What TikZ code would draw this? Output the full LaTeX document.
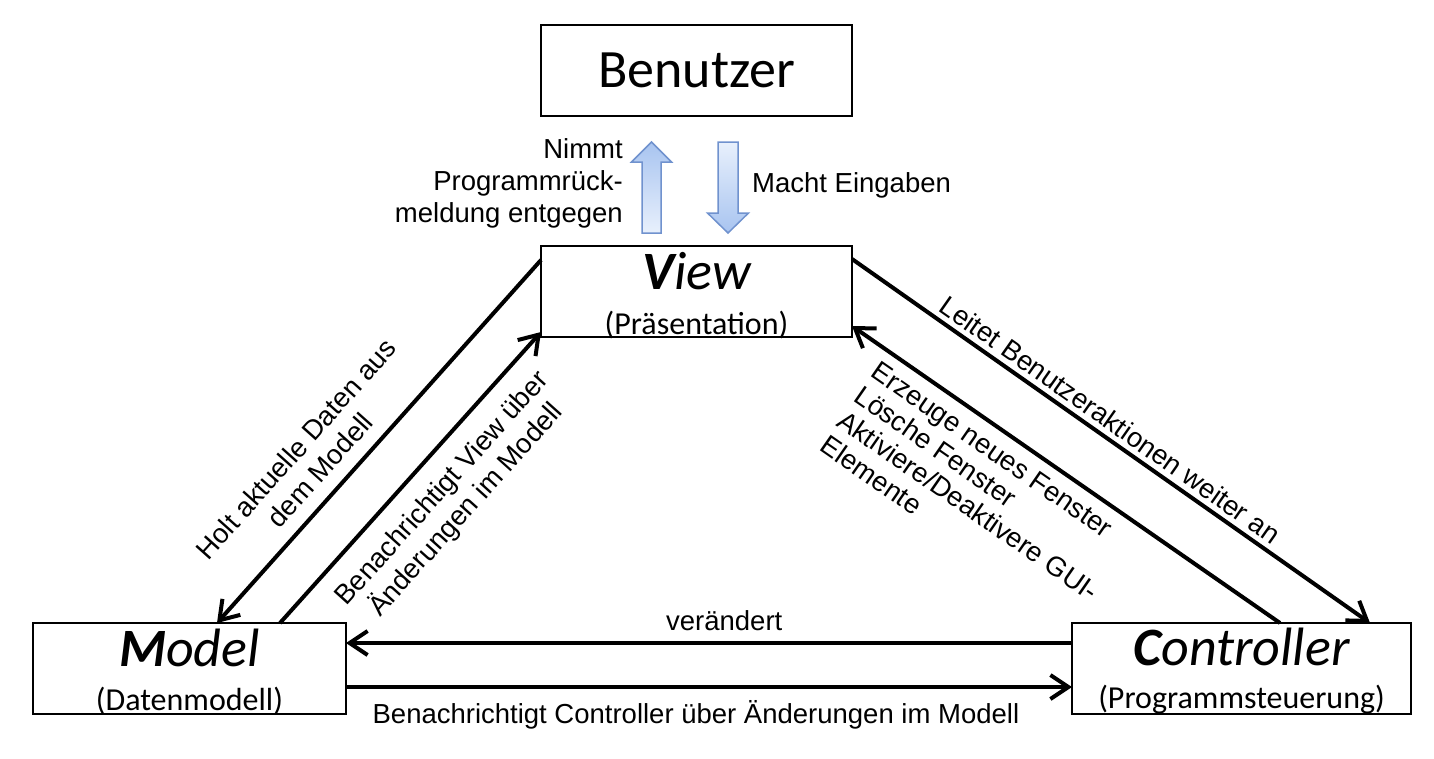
\documentclass[tikz,border=0pt]{standalone}
\usepackage{fontspec}
\setmainfont{Liberation Sans}
\newfontfamily\calibri{Carlito}
\usetikzlibrary{arrows.meta,calc,positioning}

\definecolor{fatEdge}{RGB}{112,146,206}
\definecolor{fatDark}{RGB}{168,196,240}
\definecolor{fatLight}{RGB}{232,240,252}

\tikzset{
  box/.style={draw, line width=2.5pt, minimum height=91pt, inner sep=0pt, outer sep=0pt},
  conn/.style={line width=4pt, -{Straight Barb[length=18pt,width=24pt]}},
  lbl/.style={font=\fontsize{27.5}{32}\selectfont, inner sep=0pt},
  usertext/.style={font=\calibri\fontsize{54}{60}\selectfont, anchor=base, inner sep=0pt},
  title/.style={font=\calibri\fontsize{54}{60}\selectfont\itshape, anchor=base, inner sep=0pt},
  subtitle/.style={font=\calibri\fontsize{32}{38}\selectfont, anchor=base, inner sep=0pt},
  fatarrow/.style={draw=fatEdge, line width=1.5pt, line join=miter},
}

\begin{document}
\begin{tikzpicture}[x=1pt,y=-1pt]
    \useasboundingbox (0,0) rectangle (1434,758);

    % boxes
    \node[box, minimum width=311pt] (benutzer) at (696.5,70.5) {};
    \node[box, minimum width=311pt] (view) at (696.5,291.5) {};
    \node[box, minimum width=313pt] (model) at (189.5,668.5) {};
    \node[box, minimum width=339pt] (controller) at (1241.5,668.5) {};

    \node[usertext] (benutzerT) at ([yshift=-16.5pt]benutzer.center) {Benutzer};
    \node[title] (viewT) at ([yshift=48pt]view.south) {{\bfseries V}iew};
    \node[subtitle] (viewS) at ([yshift=3pt]view.south) {(Präsentation)};
    \node[title] (modelT) at ([yshift=48pt]model.south) {{\bfseries M}odel};
    \node[subtitle] (modelS) at ([yshift=4pt]model.south) {(Datenmodell)};
    \node[title] (controllerT) at ([yshift=49pt]controller.south) {{\bfseries C}ontroller};
    \node[subtitle] (controllerS) at ([yshift=6pt]controller.south) {(Programmsteuerung)};

    % user <-> view
    \coordinate (fbTail) at ([xshift=-45pt,yshift=13pt]view.north);
    \coordinate (fbTip) at ([xshift=-45pt,yshift=-26pt]benutzer.south);
    \shadedraw[fatarrow, top color=fatDark, bottom color=fatLight]
      ([xshift=-9.5pt]fbTail) -- ([xshift=9.5pt]fbTail) -- ([xshift=9.5pt,yshift=-20pt]fbTip)
      -- ([xshift=20pt,yshift=-20pt]fbTip) -- (fbTip) -- ([xshift=-20pt,yshift=-20pt]fbTip)
      -- ([xshift=-9.5pt,yshift=-20pt]fbTip) -- cycle;
    \coordinate (inTail) at ([xshift=31.5pt,yshift=-26pt]benutzer.south);
    \coordinate (inTip) at ([xshift=31.5pt,yshift=13pt]view.north);
    \shadedraw[fatarrow, top color=fatLight, bottom color=fatDark]
      ([xshift=-10pt]inTail) -- ([xshift=10pt]inTail) -- ([xshift=10pt,yshift=20pt]inTip)
      -- ([xshift=20.5pt,yshift=20pt]inTip) -- (inTip) -- ([xshift=-20.5pt,yshift=20pt]inTip)
      -- ([xshift=-10pt,yshift=20pt]inTip) -- cycle;
    \node[lbl, align=right, anchor=north east] (fbLbl) at ([xshift=-28.5pt,yshift=4pt]fbTip)
      {Nimmt\\Programmrück-\\meldung entgegen};
    \node[lbl, anchor=base west] (inLbl) at ([xshift=24pt,yshift=-50pt]inTail) {Macht Eingaben};

    % view <-> model
    \draw[conn] ([yshift=-14pt]view.north west)
      -- node[lbl, sloped, above, pos=0.625, align=center, inner sep=13pt] (fetchLbl)
         {Holt aktuelle Daten aus\\dem Modell}
      ([xshift=184pt]model.north west);
    \draw[conn] ([xshift=247pt]model.north west)
      -- node[lbl, sloped, below, pos=0.533, align=center, inner sep=17pt] (notifyViewLbl)
         {Benachrichtigt View über\\Änderungen im Modell}
      ([yshift=5pt]view.south west);

    % view <-> controller
    \draw[conn] ([yshift=-13pt]view.north east)
      -- node[lbl, sloped, above, pos=0.48, inner sep=5pt] (forwardLbl)
         {Leitet Benutzeraktionen weiter an}
      ([xshift=298pt]controller.north west);
    \draw[conn] ([xshift=208pt]controller.north west)
      -- node[lbl, sloped, below, pos=0.62, align=left, inner sep=10pt,
              font=\fontsize{27.5}{30}\selectfont] (guiLbl)
         {Erzeuge neues Fenster\\Lösche Fenster\\Aktiviere/Deaktivere GUI-\\Elemente}
      ([yshift=11pt]view.south east);

    % controller <-> model
    \draw[conn] ([yshift=-20pt]controller.north west)
      -- node[lbl, above, pos=0.479, inner sep=10pt] (changeLbl) {verändert}
      ([yshift=-20pt]model.north east);
    \draw[conn] ([yshift=-64pt]model.north east)
      -- node[lbl, below, pos=0.482, inner sep=11pt] (notifyCtrlLbl)
         {Benachrichtigt Controller über Änderungen im Modell}
      ([yshift=-64pt]controller.north west);
\end{tikzpicture}
\end{document}
